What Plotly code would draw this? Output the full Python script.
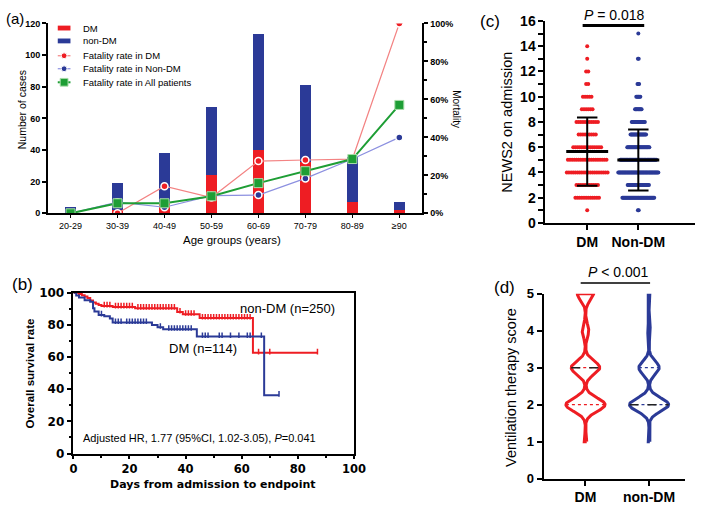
import numpy as np
import plotly.graph_objects as go

W, H = 709, 508
def px(x): return x / W
def py(y): return 1 - y / H

RED = '#EE1D23'
BLUE = '#2B3A97'
GREEN = '#1E9E35'
FONT = 'Liberation Sans, Arial, sans-serif'
VFONT = 'DejaVu Sans, Verdana, sans-serif'

# ---------------- (a) data ----------------
age_groups = ['20-29', '30-39', '40-49', '50-59', '60-69', '70-79', '80-89', '≥90']
dm_cases = [0, 2, 7, 24, 40, 32, 7, 2]
nondm_cases = [4, 17, 31, 43, 73, 49, 28, 5]
fatality_dm = [None, 0, 14.3, 8.3, 27.5, 28.1, 28.6, 100]
fatality_nondm = [0, 5.9, 3.2, 9.3, 9.6, 18.4, 28.6, 40]
fatality_all = [0, 5.3, 5.3, 9.0, 15.9, 22.2, 28.6, 57.1]
mortality_ticks = [0, 20, 40, 60, 80, 100]
legend_names = ['DM', 'non-DM', 'Fatality rate in DM', 'Fatality rate in Non-DM',
                'Fatality rate in All patients']

# ---------------- (b) data ----------------
km_nondm_t = [0, 2, 3, 4, 5, 6, 7, 8, 9, 10, 14, 22, 37, 39, 45, 64, 87]
km_nondm_s = [100, 99.2, 98.4, 97.6, 96.8, 95.2, 94, 93.2, 92.4, 91.8, 91.2, 90.4, 88, 86.6, 84.3, 62.6, 62.6]
km_dm_t = [0, 1, 2, 4, 6, 7, 7.5, 9, 11, 13, 14, 28, 30, 32, 44, 68, 73.3]
km_dm_s = [100, 98.3, 97, 95.4, 94.4, 90.4, 88.4, 86.2, 85.3, 84, 81.5, 80, 78.5, 77.3, 72.8, 36.3, 36.3]
censor_nondm = [11, 12, 13, 15, 16, 17, 18, 19, 20, 21, 23, 24, 25, 26, 27, 28, 29, 30, 31, 32, 33, 34,
                35, 36, 38, 40, 41, 42, 43, 46, 47, 48, 49, 50, 51, 52, 53, 54, 55, 56, 57, 58, 59, 60,
                61, 62, 63, 66, 70, 87]
censor_dm = [10, 15, 16, 17, 19, 20, 21, 22, 23, 24, 25, 26, 31, 34, 35, 36, 37, 38, 39, 40, 41, 42,
             46, 47, 48, 52, 53, 56, 59, 62, 63, 67, 73.3]

# ---------------- (c) data ----------------
news2_scores = list(range(1, 16))
news2_dm_counts = [1, 12, 11, 20, 19, 14, 9, 11, 6, 5, 2, 2, 1, 1, 0]
news2_nondm_counts = [2, 40, 27, 50, 45, 28, 20, 17, 9, 6, 3, 0, 2, 0, 1]
groups_c = ['DM', 'Non-DM']

# ---------------- (d) data ----------------
vent_scores = [1, 2, 3, 4, 5]
vent_dm_counts = [3, 48, 35, 8, 20]
vent_nondm_counts = [6, 150, 78, 10, 6]
groups_d = ['DM', 'non-DM']

fig = go.Figure()

# ======== Panel (a) ========
xa = list(range(len(age_groups)))
fig.add_trace(go.Bar(x=xa, y=dm_cases, marker=dict(color=RED, line=dict(width=0)), width=0.23,
                     name='DM', xaxis='x', yaxis='y', showlegend=False))
fig.add_trace(go.Bar(x=xa, y=nondm_cases, marker=dict(color=BLUE, line=dict(width=0)), width=0.23,
                     name='non-DM', xaxis='x', yaxis='y', showlegend=False))
fig.add_trace(go.Scatter(x=xa, y=fatality_nondm, mode='lines+markers', xaxis='x', yaxis='y2',
                         line=dict(color='#8C90E0', width=1.2),
                         marker=dict(color=BLUE, size=7, line=dict(color='white', width=1.5)),
                         showlegend=False))
fig.add_trace(go.Scatter(x=xa, y=fatality_dm, mode='lines+markers', xaxis='x', yaxis='y2',
                         line=dict(color='#F38383', width=1.2),
                         marker=dict(color=RED, size=7, line=dict(color='white', width=1.5)),
                         showlegend=False, connectgaps=False))
fig.add_trace(go.Scatter(x=xa, y=fatality_all, mode='lines+markers', xaxis='x', yaxis='y2',
                         line=dict(color=GREEN, width=2),
                         marker=dict(color=GREEN, size=9, symbol='square', line=dict(color='#A8DCA8', width=1)),
                         showlegend=False))

# ======== Panel (b) ========
def km_at(t, s, c):
    t = np.asarray(t, float); s = np.asarray(s, float)
    idx = np.searchsorted(t, np.asarray(c, float), side='right') - 1
    return s[np.clip(idx, 0, len(s) - 1)]

fig.add_trace(go.Scatter(x=km_nondm_t, y=km_nondm_s, mode='lines', line=dict(color=RED, width=2, shape='hv'),
                         xaxis='x3', yaxis='y3', showlegend=False))
fig.add_trace(go.Scatter(x=km_dm_t, y=km_dm_s, mode='lines', line=dict(color=BLUE, width=2, shape='hv'),
                         xaxis='x3', yaxis='y3', showlegend=False))
fig.add_trace(go.Scatter(x=censor_nondm, y=km_at(km_nondm_t, km_nondm_s, censor_nondm) + 0.8, mode='markers',
                         marker=dict(symbol='line-ns', size=4, line=dict(color=RED, width=1.5)),
                         xaxis='x3', yaxis='y3', showlegend=False))
fig.add_trace(go.Scatter(x=censor_dm, y=km_at(km_dm_t, km_dm_s, censor_dm) + 0.8, mode='markers',
                         marker=dict(symbol='line-ns', size=4, line=dict(color=BLUE, width=1.5)),
                         xaxis='x3', yaxis='y3', showlegend=False))

# ======== Panel (c) ========
dot_spacing = [0.042, 0.016]
for gi, (counts, col) in enumerate([(news2_dm_counts, RED), (news2_nondm_counts, BLUE)]):
    xs, ys = [], []
    for sc, n in zip(news2_scores, counts):
        if n == 0:
            continue
        off = (np.arange(n) - (n - 1) / 2) * dot_spacing[gi]
        xs.extend(gi + off); ys.extend([sc] * n)
    fig.add_trace(go.Scatter(x=xs, y=ys, mode='markers', marker=dict(color=col, size=4, line=dict(width=0)),
                             xaxis='x4', yaxis='y4', showlegend=False))
    vals = np.repeat(news2_scores, counts)
    m, sd = vals.mean(), vals.std(ddof=1)
    fig.add_trace(go.Scatter(x=[gi - 0.41, gi + 0.41], y=[m, m], mode='lines', line=dict(color='black', width=3),
                             xaxis='x4', yaxis='y4', showlegend=False))
    fig.add_trace(go.Scatter(x=[gi - 0.2, gi + 0.2, None, gi, gi, None, gi - 0.2, gi + 0.2],
                             y=[m + sd, m + sd, None, m + sd, m - sd, None, m - sd, m - sd],
                             mode='lines', line=dict(color='black', width=2),
                             xaxis='x4', yaxis='y4', showlegend=False))

# ======== Panel (d) ========
grid = np.linspace(1, 5, 401)
half_w = 0.308
for gi, (counts, col) in enumerate([(vent_dm_counts, RED), (vent_nondm_counts, BLUE)]):
    f = np.zeros_like(grid)
    for v, c in zip(vent_scores, counts):
        f += c * np.exp(-0.5 * ((grid - v) / 0.18) ** 2)
    hw = f / f.max() * half_w
    xs = np.concatenate([gi + hw, (gi - hw)[::-1], [gi + hw[0]]])
    ys = np.concatenate([grid, grid[::-1], [grid[0]]])
    fig.add_trace(go.Scatter(x=xs, y=ys, mode='lines', fill='toself', fillcolor='white',
                             line=dict(color=col, width=3), xaxis='x5', yaxis='y5', showlegend=False))
    vals = np.repeat(vent_scores, counts)
    q1, med, q3 = np.percentile(vals, [25, 50, 75])
    for q in (q1, q3):
        w = np.interp(q, grid, hw)
        fig.add_trace(go.Scatter(x=[gi - w, gi + w], y=[q, q], mode='lines',
                                 line=dict(color=col, width=1.2, dash='dot'),
                                 xaxis='x5', yaxis='y5', showlegend=False))
    w = np.interp(med, grid, hw)
    fig.add_trace(go.Scatter(x=[gi - w, gi + w], y=[med, med], mode='lines',
                             line=dict(color='#222222', width=1.5, dash='dash'),
                             xaxis='x5', yaxis='y5', showlegend=False))

# ======== Axes ========
axis_common = dict(showline=True, linecolor='black', showgrid=False, zeroline=False,
                   ticks='outside', tickcolor='black')

layout = dict(
    width=W, height=H, margin=dict(l=0, r=0, t=0, b=0), autosize=False,
    paper_bgcolor='white', plot_bgcolor='rgba(0,0,0,0)',
    barmode='stack', bargap=0, showlegend=False,
    font=dict(family=FONT, color='black'),
    xaxis=dict(**axis_common, domain=[px(45), px(428)], range=[-0.48, 7.49], anchor='y',
               tickvals=xa, ticktext=age_groups, linewidth=2, ticklen=3, tickwidth=1,
               tickfont=dict(size=9, family=FONT)),
    yaxis=dict(**axis_common, domain=[py(212), py(16)], range=[0, 120], anchor='x',
               tickvals=[0, 20, 40, 60, 80, 100, 120], linewidth=2, ticklen=4, tickwidth=2,
               tickfont=dict(size=9, family=FONT, weight='bold')),
    yaxis2=dict(**axis_common, overlaying='y', side='right', anchor='x', range=[0, 100],
                tickvals=mortality_ticks, ticktext=[f'{v}%' for v in mortality_ticks],
                linewidth=2, ticklen=4, tickwidth=2,
                minor=dict(dtick=10, ticklen=3, tickwidth=1.5, tickcolor='black', ticks='outside'),
                tickfont=dict(size=9, family=FONT, weight='bold')),
    xaxis3=dict(**axis_common, domain=[px(71), px(358)], range=[0, 100], anchor='y3', mirror=True,
                dtick=20, linewidth=1.5, ticklen=4, tickwidth=2,
                minor=dict(dtick=10, ticklen=3, tickwidth=1.5, tickcolor='black', ticks='outside'),
                tickfont=dict(size=11.5, family=VFONT, weight='bold')),
    yaxis3=dict(**axis_common, domain=[py(460), py(294)], range=[0, 100], anchor='x3', mirror=True,
                dtick=20, linewidth=1.5, ticklen=5, tickwidth=2,
                minor=dict(dtick=10, ticklen=3, tickwidth=1.5, tickcolor='black', ticks='outside'),
                tickfont=dict(size=12, family=VFONT, weight='bold')),
    xaxis4=dict(**axis_common, domain=[px(554), px(707)], range=[-0.816, 2.11], anchor='y4',
                tickvals=[0, 1], ticktext=groups_c, linewidth=2, ticklen=5, tickwidth=2,
                tickfont=dict(size=14, family=FONT, weight='bold')),
    yaxis4=dict(**axis_common, domain=[py(222), py(13.3)], range=[0, 16], anchor='x4',
                dtick=2, linewidth=2, ticklen=5, tickwidth=2,
                minor=dict(dtick=1, ticklen=5, tickwidth=2, tickcolor='black', ticks='outside'),
                tickfont=dict(size=14, family=FONT, weight='bold')),
    xaxis5=dict(**axis_common, domain=[px(552), px(697)], range=[-0.66, 1.57], anchor='y5',
                tickvals=[0, 1], ticktext=groups_d, linewidth=2, ticklen=5, tickwidth=2,
                tickfont=dict(size=14, family=FONT, weight='bold')),
    yaxis5=dict(**axis_common, domain=[py(486), py(295)], range=[0, 5], anchor='x5',
                dtick=1, linewidth=2, ticklen=5, tickwidth=2,
                tickfont=dict(size=13, family=FONT, weight='bold')),
)

ann = []
def add_text(x, y, text, size, angle=0, bold=False, family=FONT, xanchor='center'):
    ann.append(dict(x=px(x), y=py(y), xref='paper', yref='paper', text=text, showarrow=False,
                    textangle=angle, xanchor=xanchor, yanchor='middle',
                    font=dict(size=size, family=family, color='black', weight='bold' if bold else 'normal')))

# panel labels
add_text(11, 11, '(a)', 15)
add_text(19, 285, '(b)', 17)
add_text(497, 14, '(c)', 17)
add_text(512, 289, '(d)', 17)
# (a) titles
add_text(18, 105, 'Number of cases', 10.5, angle=-90)
add_text(463, 104, 'Mortality', 10, angle=90)
add_text(233, 240, 'Age groups (years)', 11.5)
# (b)
add_text(27, 377, 'Overall survival rate', 11.5, angle=-90, bold=True)
add_text(214, 492, 'Days from admission to endpoint', 11, bold=True, family=VFONT)
add_text(239, 310, 'non-DM (n=250)', 13, xanchor='left')
add_text(167, 352, 'DM (n=114)', 13, xanchor='left')
add_text(79, 444, 'Adjusted HR, 1.77 (95%CI, 1.02-3.05), <i>P</i>=0.041', 11, xanchor='left')
# (c)
add_text(515, 118, 'NEWS2 on admission', 14.5, angle=-90)
add_text(625, 7, '<i>P</i> = 0.018', 14)
# (d)
add_text(518, 392, 'Ventilation therapy score', 14.5, angle=-90)
add_text(629, 273, '<i>P</i> < 0.001', 14)

# legend for (a)
leg_y = [20.7, 34, 49.3, 62.7, 76.7]
shapes = []
for i, name in enumerate(legend_names):
    add_text(79, leg_y[i], name, 9.5, xanchor='left')
y0 = leg_y
shapes.append(dict(type='rect', xref='paper', yref='paper', x0=px(55), x1=px(68), y0=py(y0[0] + 2.5), y1=py(y0[0] - 2.5),
                   fillcolor=RED, line=dict(width=0)))
shapes.append(dict(type='rect', xref='paper', yref='paper', x0=px(55), x1=px(68), y0=py(y0[1] + 2.5), y1=py(y0[1] - 2.5),
                   fillcolor=BLUE, line=dict(width=0)))
for i, (lc, mc) in zip([2, 3], [('#F38383', RED), ('#8C90E0', BLUE)]):
    shapes.append(dict(type='line', xref='paper', yref='paper', x0=px(55), x1=px(68), y0=py(y0[i]), y1=py(y0[i]),
                       line=dict(color=lc, width=1.2)))
    shapes.append(dict(type='circle', xref='paper', yref='paper', x0=px(58.5), x1=px(64.5),
                       y0=py(y0[i] + 3), y1=py(y0[i] - 3), fillcolor=mc, line=dict(color='white', width=1)))
shapes.append(dict(type='line', xref='paper', yref='paper', x0=px(55), x1=px(68), y0=py(y0[4]), y1=py(y0[4]),
                   line=dict(color=GREEN, width=2)))
shapes.append(dict(type='rect', xref='paper', yref='paper', x0=px(57.5), x1=px(65.5),
                   y0=py(y0[4] + 4), y1=py(y0[4] - 4), fillcolor=GREEN, line=dict(color='#A8DCA8', width=1)))
# significance bars
shapes.append(dict(type='line', xref='paper', yref='paper', x0=px(592), x1=px(655), y0=py(18), y1=py(18),
                   line=dict(color='black', width=3)))
shapes.append(dict(type='line', xref='paper', yref='paper', x0=px(590), x1=px(661), y0=py(284), y1=py(284),
                   line=dict(color='black', width=1.5)))

layout['annotations'] = ann
layout['shapes'] = shapes
fig.update_layout(**layout)
fig.write_html('out.html', config={'responsive': False, 'displayModeBar': False},
               post_script="document.body.style.margin='0';document.body.style.padding='0';"
                           "document.body.style.overflow='hidden';")
